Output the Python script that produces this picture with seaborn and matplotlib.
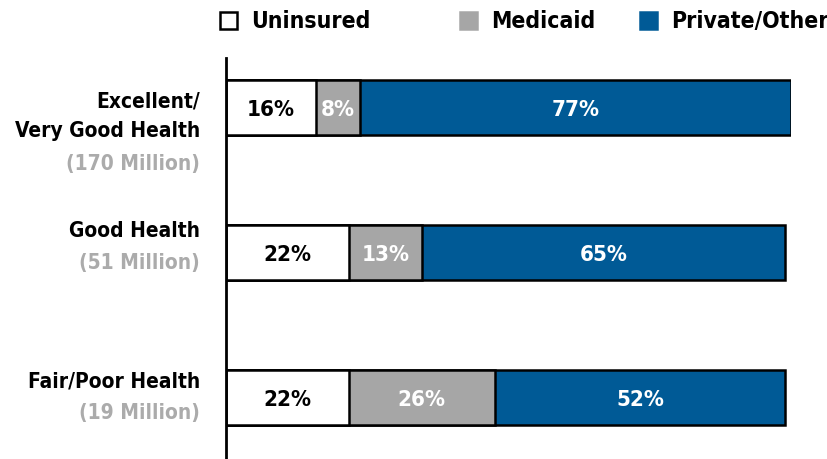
import numpy as np
import pandas as pd
import matplotlib.pyplot as plt
import seaborn as sns
from matplotlib.patches import Patch
from matplotlib.transforms import blended_transform_factory

# data
groups = ['Excellent/\nVery Good Health', 'Good Health', 'Fair/Poor Health']
populations = ['(170 Million)', '(51 Million)', '(19 Million)']
uninsured = [16, 22, 22]
medicaid = [8, 13, 26]
private_other = [77, 65, 52]

series = ['Uninsured', 'Medicaid', 'Private/Other']
colors = ['#FFFFFF', '#A6A6A6', '#005A96']
text_colors = ['black', 'white', 'white']

sns.set_style('white')
plt.rcParams['font.family'] = ['DejaVu Sans']
plt.rcParams['font.stretch'] = 'condensed'
plt.rcParams['font.weight'] = 'bold'
plt.rcParams['text.color'] = 'black'

df = pd.DataFrame({'group': groups, 'Uninsured': uninsured,
                   'Medicaid': medicaid, 'Private/Other': private_other})
df['c1'] = df['Uninsured']
df['c2'] = df['c1'] + df['Medicaid']
df['c3'] = df['c2'] + df['Private/Other']

fig = plt.figure(figsize=(8.27, 4.59), dpi=100)
ax = fig.add_axes([226 / 827, 0.0, (791 - 226) / 827, 1 - 58 / 459])

# stacked bars: draw the running totals from the back forward
for col, color in zip(['c3', 'c2', 'c1'], colors[::-1]):
    sns.barplot(data=df, x=col, y='group', orient='h', color=color,
                edgecolor='black', linewidth=1.8, width=0.38,
                saturation=1, ax=ax)

ax.set_xlim(0, 101)
ax.set_ylim(2.424, -0.341)
ax.set_xlabel('')
ax.set_ylabel('')
ax.set_xticks([])
ax.set_yticks([])
for side in ['top', 'right', 'bottom']:
    ax.spines[side].set_visible(False)
ax.spines['left'].set_color('black')
ax.spines['left'].set_linewidth(2)

# percentage labels in the middle of each segment
for i in range(len(groups)):
    left = 0
    for vals, tc in zip([uninsured, medicaid, private_other], text_colors):
        v = vals[i]
        ax.text(left + v / 2, i + 0.02, f'{v}%', ha='center', va='center',
                color=tc, fontsize=16, fontweight='bold')
        left += v

# category labels on the left, population in grey underneath
trans = blended_transform_factory(ax.transAxes, ax.transData)
name_y = [0.062, -0.15, -0.11]
pop_y = [0.39, 0.075, 0.11]
for i in range(len(groups)):
    ax.text(-0.046, i + name_y[i], groups[i], transform=trans, ha='right',
            va='center', fontsize=15, fontweight='bold', color='black',
            linespacing=1.6, clip_on=False)
    ax.text(-0.046, i + pop_y[i], populations[i], transform=trans, ha='right',
            va='center', fontsize=15, fontweight='bold', color='#ABABAB',
            clip_on=False)

# legend entries sit at uneven spacing in the original, so place each one
legend_x = [220, 460, 640]
for c, s, lx in zip(colors, series, legend_x):
    h = Patch(facecolor=c, edgecolor='black' if c == '#FFFFFF' else c,
              linewidth=1.8, label=s)
    fig.legend(handles=[h], loc='center left', frameon=False,
               bbox_to_anchor=(lx / 827, 1 - 22 / 459), fontsize=16.5,
               handlelength=0.75, handleheight=0.75, handletextpad=0.6,
               borderpad=0, borderaxespad=0, labelcolor='black')

fig.savefig('out.png', dpi=100)
